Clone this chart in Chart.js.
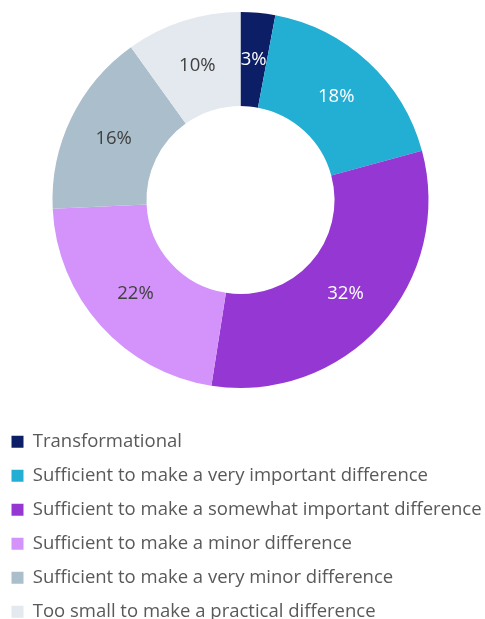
<!DOCTYPE html>
<html>
<head>
<meta charset="utf-8">
<script src="https://cdn.jsdelivr.net/npm/chart.js@4"></script>
<style>
  html, body { margin: 0; padding: 0; background: #fff; overflow: hidden; }
  #wrap { position: relative; width: 489px; height: 631px; margin-left: -4px; }
</style>
</head>
<body>
<div id="wrap"><canvas id="impactChart"></canvas></div>
<script>
const categories = [
  "Transformational",
  "Sufficient to make a very important difference",
  "Sufficient to make a somewhat important difference",
  "Sufficient to make a minor difference",
  "Sufficient to make a very minor difference",
  "Too small to make a practical difference"
];
const shares = [3, 18, 32, 22, 16, 10];
const sliceColors = ["#0c1f66", "#23aed3", "#9538d3", "#d393fa", "#abbecb", "#e3e9ef"];
const labelColors = ["#ffffff", "#ffffff", "#ffffff", "#404040", "#404040", "#404040"];

const fontFamily = "'Open Sans', sans-serif";
const fontSize = 18.5;

// percentages written in the middle of each ring segment
const sliceLabels = {
  id: "sliceLabels",
  afterDatasetsDraw(chart) {
    const ctx = chart.ctx;
    const meta = chart.getDatasetMeta(0);
    ctx.save();
    ctx.font = fontSize + "px " + fontFamily;
    ctx.textAlign = "center";
    ctx.textBaseline = "middle";
    meta.data.forEach((arc, i) => {
      const p = arc.tooltipPosition();
      ctx.fillStyle = labelColors[i];
      ctx.fillText(shares[i] + "%", p.x, p.y);
    });
    ctx.restore();
  }
};

new Chart(document.getElementById("impactChart"), {
  type: "doughnut",
  data: {
    labels: categories,
    datasets: [{
      data: shares,
      backgroundColor: sliceColors,
      borderWidth: 0
    }]
  },
  options: {
    responsive: true,
    maintainAspectRatio: false,
    animation: false,
    cutout: "50%",
    layout: { padding: { top: 12 } },
    plugins: {
      tooltip: { enabled: false },
      legend: {
        position: "bottom",
        align: "start",
        // empty title only adds a gap above the legend rows
        title: {
          display: true,
          text: "",
          font: { size: 10 },
          padding: { top: 0, bottom: 17 }
        },
        labels: {
          boxWidth: 12,
          boxHeight: 12,
          padding: 15.5,
          color: "#595959",
          font: { size: fontSize, family: fontFamily }
        }
      }
    }
  },
  plugins: [sliceLabels]
});
</script>
</body>
</html>
